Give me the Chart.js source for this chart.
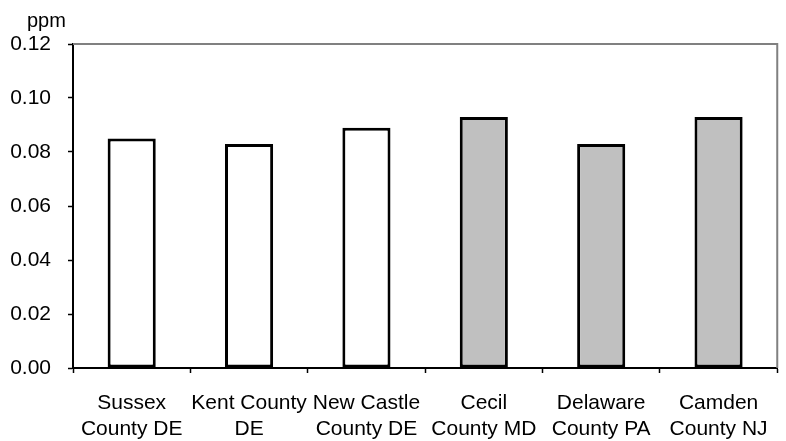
<!DOCTYPE html>
<html>
<head>
<meta charset="utf-8">
<script src="https://cdn.jsdelivr.net/npm/chart.js@4/dist/chart.umd.min.js"></script>
<style>
  body { margin: 0; background: #fff; }
  #grafico { display: block; }
</style>
</head>
<body>
<canvas id="grafico" width="786" height="441"></canvas>
<script>
// condados e concentração de ozônio (ppm)
const condados = [
  ["Sussex", "County DE"],
  ["Kent County", "DE"],
  ["New Castle", "County DE"],
  ["Cecil", "County MD"],
  ["Delaware", "County PA"],
  ["Camden", "County NJ"]
];
const valores = [0.085, 0.083, 0.089, 0.093, 0.083, 0.093];
const coresBarras = ["#ffffff", "#ffffff", "#ffffff", "#c0c0c0", "#c0c0c0", "#c0c0c0"];
const marcasY = { min: 0, max: 0.12, passo: 0.02 };
const unidade = "ppm";

const fonte = { family: "'Liberation Sans', Arial, sans-serif", size: 21, lineHeight: 1.2 };

// moldura cinza em cima e à direita + rótulo da unidade
const moldura = {
  id: "moldura",
  beforeDatasetsDraw(chart) {
    const { ctx, chartArea } = chart;
    ctx.save();
    ctx.strokeStyle = "#808080";
    ctx.lineWidth = 2;
    ctx.beginPath();
    ctx.moveTo(chartArea.left, chartArea.top);
    ctx.lineTo(chartArea.right, chartArea.top);
    ctx.lineTo(chartArea.right, chartArea.bottom);
    ctx.stroke();
    ctx.restore();
  },
  afterDraw(chart) {
    const { ctx } = chart;
    ctx.save();
    ctx.fillStyle = "#000";
    ctx.font = "20px 'Liberation Sans', Arial, sans-serif";
    ctx.textBaseline = "alphabetic";
    ctx.fillText(unidade, 27, 27);
    ctx.restore();
  }
};

new Chart(document.getElementById("grafico").getContext("2d"), {
  type: "bar",
  data: {
    labels: condados,
    datasets: [{
      data: valores,
      backgroundColor: coresBarras,
      borderColor: "#000",
      borderWidth: 3,
      borderSkipped: false,
      categoryPercentage: 1,
      barPercentage: 0.41
    }]
  },
  options: {
    responsive: false,
    animation: false,
    layout: { padding: { top: 44, right: 5, left: 0, bottom: 0 } },
    plugins: {
      legend: { display: false },
      tooltip: { enabled: false }
    },
    scales: {
      x: {
        afterFit: s => { s.height = 73; },
        border: { color: "#000", width: 2 },
        grid: { offset: true, drawOnChartArea: false, color: "#000", tickLength: 5, tickWidth: 1.5 },
        ticks: { color: "#000", font: fonte, padding: 18, maxRotation: 0, autoSkip: false }
      },
      y: {
        min: marcasY.min,
        max: marcasY.max,
        afterFit: s => { s.width = 73; },
        border: { color: "#000", width: 2 },
        grid: { drawOnChartArea: false, color: "#000", tickLength: 5, tickWidth: 1.5 },
        ticks: {
          stepSize: marcasY.passo,
          color: "#000",
          font: fonte,
          padding: 17,
          callback: v => v.toFixed(2)
        }
      }
    }
  },
  plugins: [moldura]
});
</script>
</body>
</html>
